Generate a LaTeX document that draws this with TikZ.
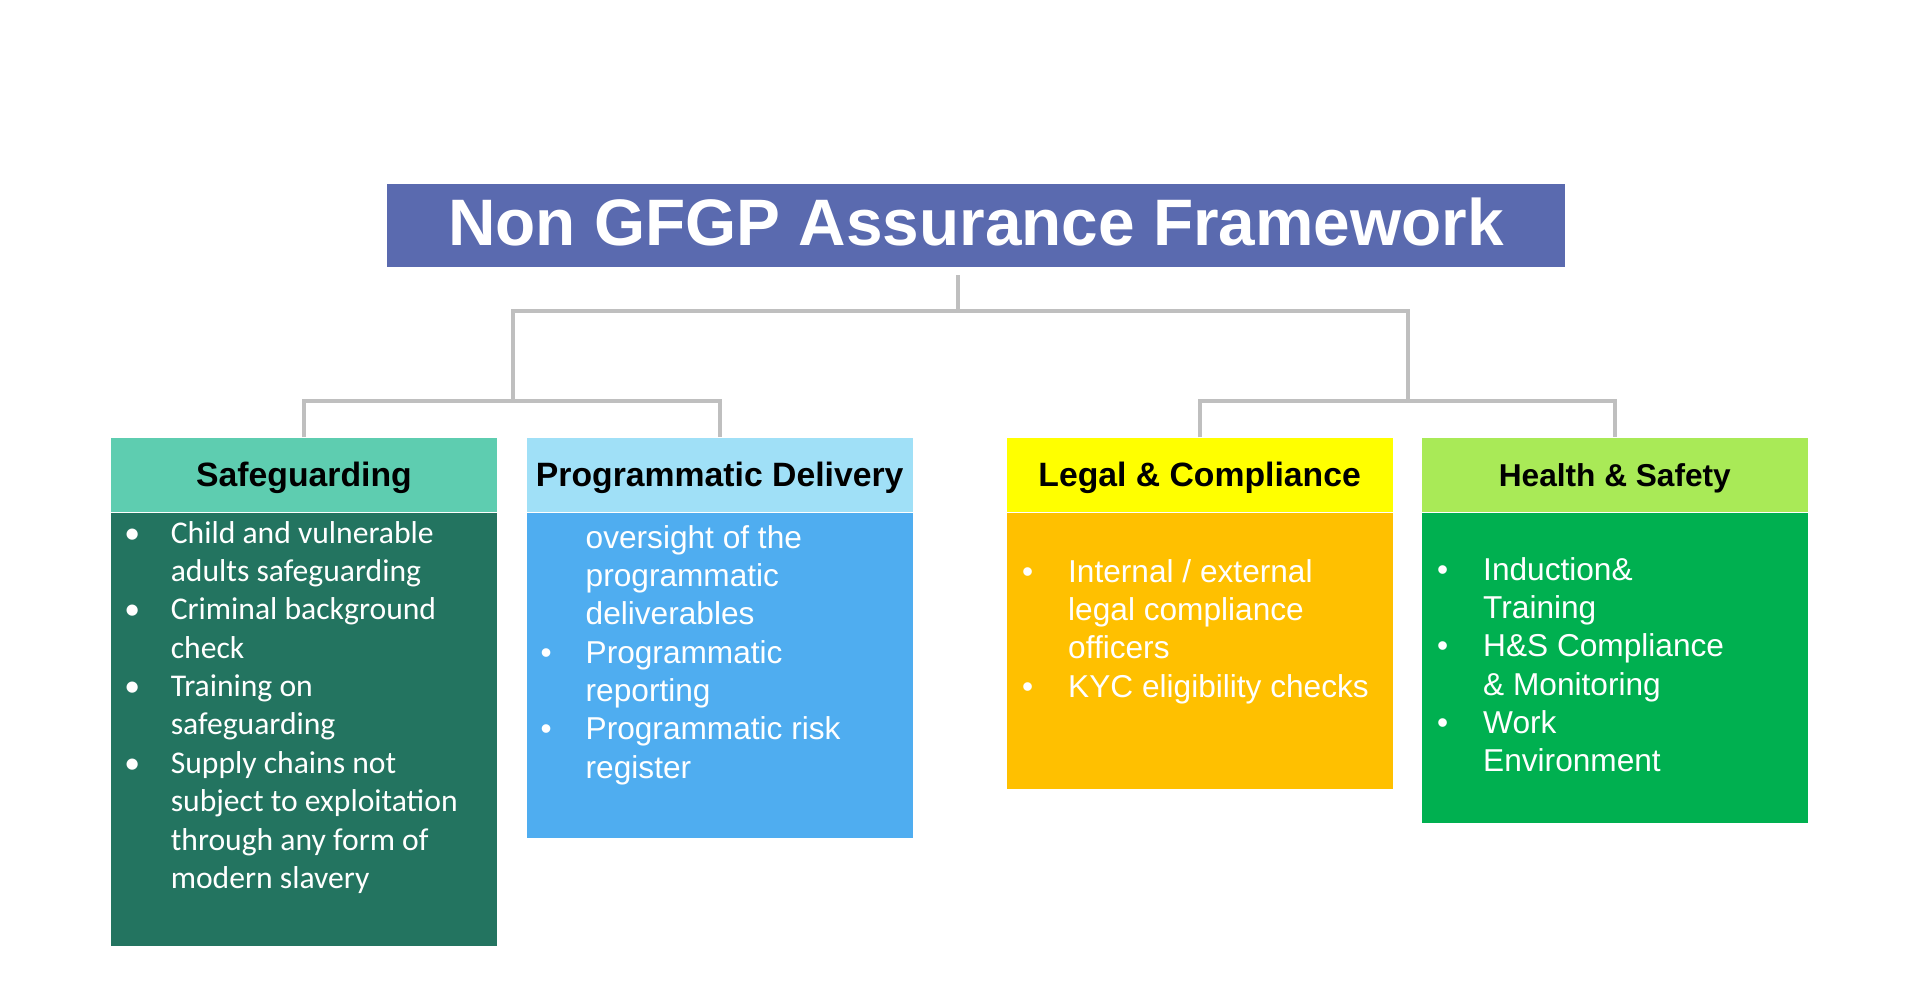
\documentclass[tikz,border=0pt]{standalone}
\usepackage{fontspec}
\setmainfont{Liberation Sans}
\newfontfamily\calfont{Carlito}
\usetikzlibrary{positioning}
\definecolor{titleblue}{HTML}{5A6AAF}
\definecolor{linegray}{HTML}{BFBFBF}
\definecolor{sgmint}{HTML}{5ECDB0}
\definecolor{sgdark}{HTML}{237460}
\definecolor{pdlight}{HTML}{A0E0F7}
\definecolor{pdblue}{HTML}{4FADF0}
\definecolor{lcyellow}{HTML}{FFFF00}
\definecolor{lcamber}{HTML}{FFC000}
\definecolor{hslime}{HTML}{A9EA57}
\definecolor{hsgreen}{HTML}{00B050}
\newcommand{\bul}{\makebox[0pt]{\textbullet}}
\tikzset{
  every picture/.style={line join=miter, line cap=butt},
  linkline/.style={draw=linegray, line width=1.15pt},
  headbox/.style={minimum width=3.86cm, minimum height=0.74cm, inner sep=0pt, text height=0.23cm, text depth=0cm},
  bodybox/.style={minimum width=3.86cm, inner sep=0pt, anchor=north, below=0pt of #1},
  itemtext/.style={anchor=base west, inner sep=0pt, text=white, font=\fontsize{9}{10.92}\selectfont},
}
\begin{document}
\begin{tikzpicture}
\useasboundingbox (0,0) rectangle (19.2,-10.04);
% title
\node[fill=titleblue, text=white, minimum width=11.78cm, minimum height=0.835cm, inner sep=0pt,
  text height=0.47cm, text depth=0.08cm, font=\bfseries\fontsize{18.7}{22}\selectfont] (title) at (9.76,-2.255) {Non GFGP Assurance Framework};
% group headers
\node[headbox, fill=sgmint, font=\bfseries\fontsize{9.6}{11}\selectfont] (sghead) at (3.04,-4.75) {Safeguarding};
\node[headbox, fill=pdlight, font=\bfseries\fontsize{9.6}{11}\selectfont, right=0.283cm of sghead] (pdhead) {Programmatic Delivery};
\node[headbox, fill=lcyellow, font=\bfseries\fontsize{9.6}{11}\selectfont, right=0.925cm of pdhead] (lchead) {Legal \& Compliance};
\node[headbox, fill=hslime, font=\bfseries\fontsize{9}{10}\selectfont, right=0.278cm of lchead] (hshead) {Health \& Safety};
% bodies
\node[bodybox=sghead, fill=sgdark, minimum height=4.33cm] (sgbody) {};
\node[bodybox=pdhead, fill=pdblue, minimum height=3.25cm] (pdbody) {};
\node[bodybox=lchead, fill=lcamber, minimum height=2.76cm] (lcbody) {};
\node[bodybox=hshead, fill=hsgreen, minimum height=3.10cm] (hsbody) {};
% tree
\coordinate (stem) at (9.58,-2.75);
\coordinate (hubL) at (5.13,-3.11);
\coordinate (hubR) at (14.08,-3.11);
\coordinate (grpL) at (5.13,-4.01);
\coordinate (grpR) at (14.08,-4.01);
\draw[linkline] (stem) -- (stem |- hubL);
\draw[linkline] (grpL) -- (hubL) -- (hubR) -- (grpR);
\draw[linkline] (sghead.north) |- (grpL) -| (pdhead.north);
\draw[linkline] (lchead.north) |- (grpR) -| (hshead.north);
% items
\node[itemtext, font=\calfont\fontsize{9}{10.92}\selectfont] (sgitems) at (1.316,-5.43) {%
\begin{tabular}[t]{@{}p{0.385cm}@{}l@{}}
\bul & Child and vulnerable\\
 & adults safeguarding\\
\bul & Criminal background\\
 & check\\
\bul & Training on\\
 & safeguarding\\
\bul & Supply chains not\\
 & subject to exploitation\\
 & through any form of\\
 & modern slavery
\end{tabular}};
\node[itemtext] (pditems) at (5.455,-5.48) {%
\begin{tabular}[t]{@{}p{0.395cm}@{}l@{}}
 & oversight of the\\
 & programmatic\\
 & deliverables\\
\bul & Programmatic\\
 & reporting\\
\bul & Programmatic risk\\
 & register
\end{tabular}};
\node[itemtext] (lcitems) at (10.27,-5.82) {%
\begin{tabular}[t]{@{}p{0.405cm}@{}l@{}}
\bul & Internal / external\\
 & legal compliance\\
 & officers\\
\bul & KYC eligibility checks
\end{tabular}};
\node[itemtext] (hsitems) at (14.42,-5.80) {%
\begin{tabular}[t]{@{}p{0.405cm}@{}l@{}}
\bul & Induction\&\\
 & Training\\
\bul & H\&S Compliance\\
 & \& Monitoring\\
\bul & Work\\
 & Environment
\end{tabular}};
\end{tikzpicture}
\end{document}
